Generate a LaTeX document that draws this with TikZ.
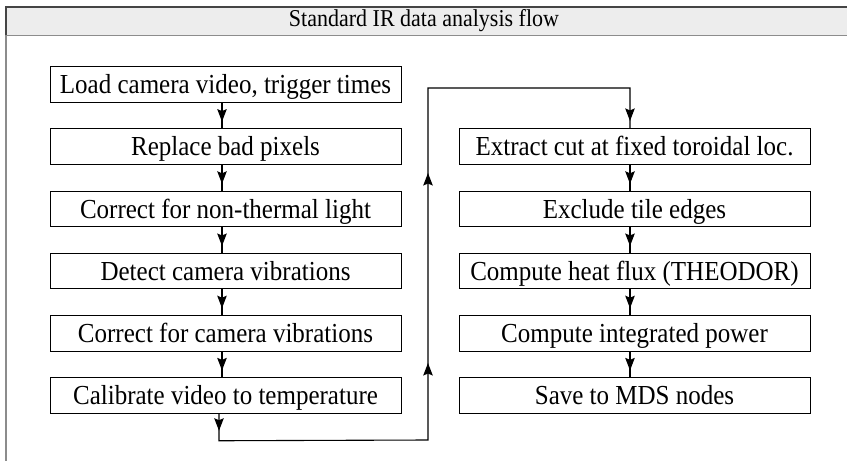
\documentclass[tikz,border=0pt]{standalone}
\usepackage{fontspec}
\setmainfont{Liberation Serif}
\usetikzlibrary{arrows.meta,decorations.markings,calc}

\definecolor{barfill}{HTML}{EDEDED}
\definecolor{barline}{HTML}{454545}
\definecolor{frameline}{HTML}{8C8C8C}

% slightly tall lettering
\newcommand\tallish[1]{\scalebox{1}[1.1]{#1}}

\begin{document}
\begin{tikzpicture}[x=1pt,y=-1pt,
  >={Stealth[length=12.5pt,width=9.5pt,inset=2pt]},
  stepbox/.style={draw=black, line width=1pt, minimum width=351pt,
    minimum height=35.5pt, inner sep=2pt, text height=18.2pt, text depth=0pt,
    font=\fontsize{25}{30}\selectfont},
  flow/.style={draw=black, line width=1.1pt},
  midtip/.style={flow, postaction={decorate},
    decoration={markings, mark=at position 0.5 with {\pgftransformxshift{6pt}\arrow{>}}}},
  looptips/.style={flow, postaction={decorate},
    decoration={markings,
      mark=at position 17pt with {\arrow{>}},
      mark=at position 313pt with {\arrow{>}},
      mark=at position 503pt with {\arrow{>}},
      mark=at position 823pt with {\arrow{>}}}}
]
\useasboundingbox (0,0) rectangle (847,461);

% panel frame and title bar
\fill[barfill] (6,7) rectangle (847,35);
\draw[frameline, line width=0.9pt] (6,35) -- (847,35);
\draw[frameline, line width=1.2pt] (6,35) -- (6,461);
\draw[barline, line width=1.5pt] (6,35) -- (6,7) -- (847,7);
\node[font=\fontsize{22}{26}\selectfont] (title) at (424,21) {\tallish{Standard IR data analysis flow}};

% left column
\node[stepbox] (load)   at (225.5, 84.5) {\tallish{Load camera video, trigger times}};
\node[stepbox] (pix)    at (225.5,146.7) {\tallish{Replace bad pixels}};
\node[stepbox] (light)  at (225.5,208.9) {\tallish{Correct for non-thermal light}};
\node[stepbox] (detect) at (225.5,271.1) {\tallish{Detect camera vibrations}};
\node[stepbox] (corr)   at (225.5,333.3) {\tallish{Correct for camera vibrations}};
\node[stepbox] (cal)    at (225.5,395.5) {\tallish{Calibrate video to temperature}};

% right column
\node[stepbox] (ext)    at (634.5,146.7) {\tallish{Extract cut at fixed toroidal loc.}};
\node[stepbox] (tiles)  at (634.5,208.9) {\tallish{Exclude tile edges}};
\node[stepbox] (flux)   at (634.5,271.1) {\tallish{Compute heat flux (THEODOR)}};
\node[stepbox] (power)  at (634.5,333.3) {\tallish{Compute integrated power}};
\node[stepbox] (mds)    at (634.5,395.5) {\tallish{Save to MDS nodes}};

% arrows within the columns
\foreach \a/\b in {load/pix, pix/light, light/detect, detect/corr, corr/cal}
  \draw[midtip] ([xshift=-3.5pt]\a.south) -- ([xshift=-3.5pt]\b.north);
\foreach \a/\b in {ext/tiles, tiles/flux, flux/power, power/mds}
  \draw[midtip] ([xshift=-4.5pt]\a.south) -- ([xshift=-4.5pt]\b.north);

% loop from the bottom of the left column to the top of the right one
\coordinate (lowturn)  at ($(cal.south)+(-6.5,27)$);
\coordinate (lowright) at (428,440);
\coordinate (highleft) at (428,88);
\coordinate (highturn) at ($(ext.north)+(-4.5,-40.5)$);
\draw[looptips] ([xshift=-6.5pt]cal.south) -- (lowturn) -- (lowright)
  -- (highleft) -- (highturn) -- ([xshift=-4.5pt]ext.north);
\end{tikzpicture}
\end{document}
